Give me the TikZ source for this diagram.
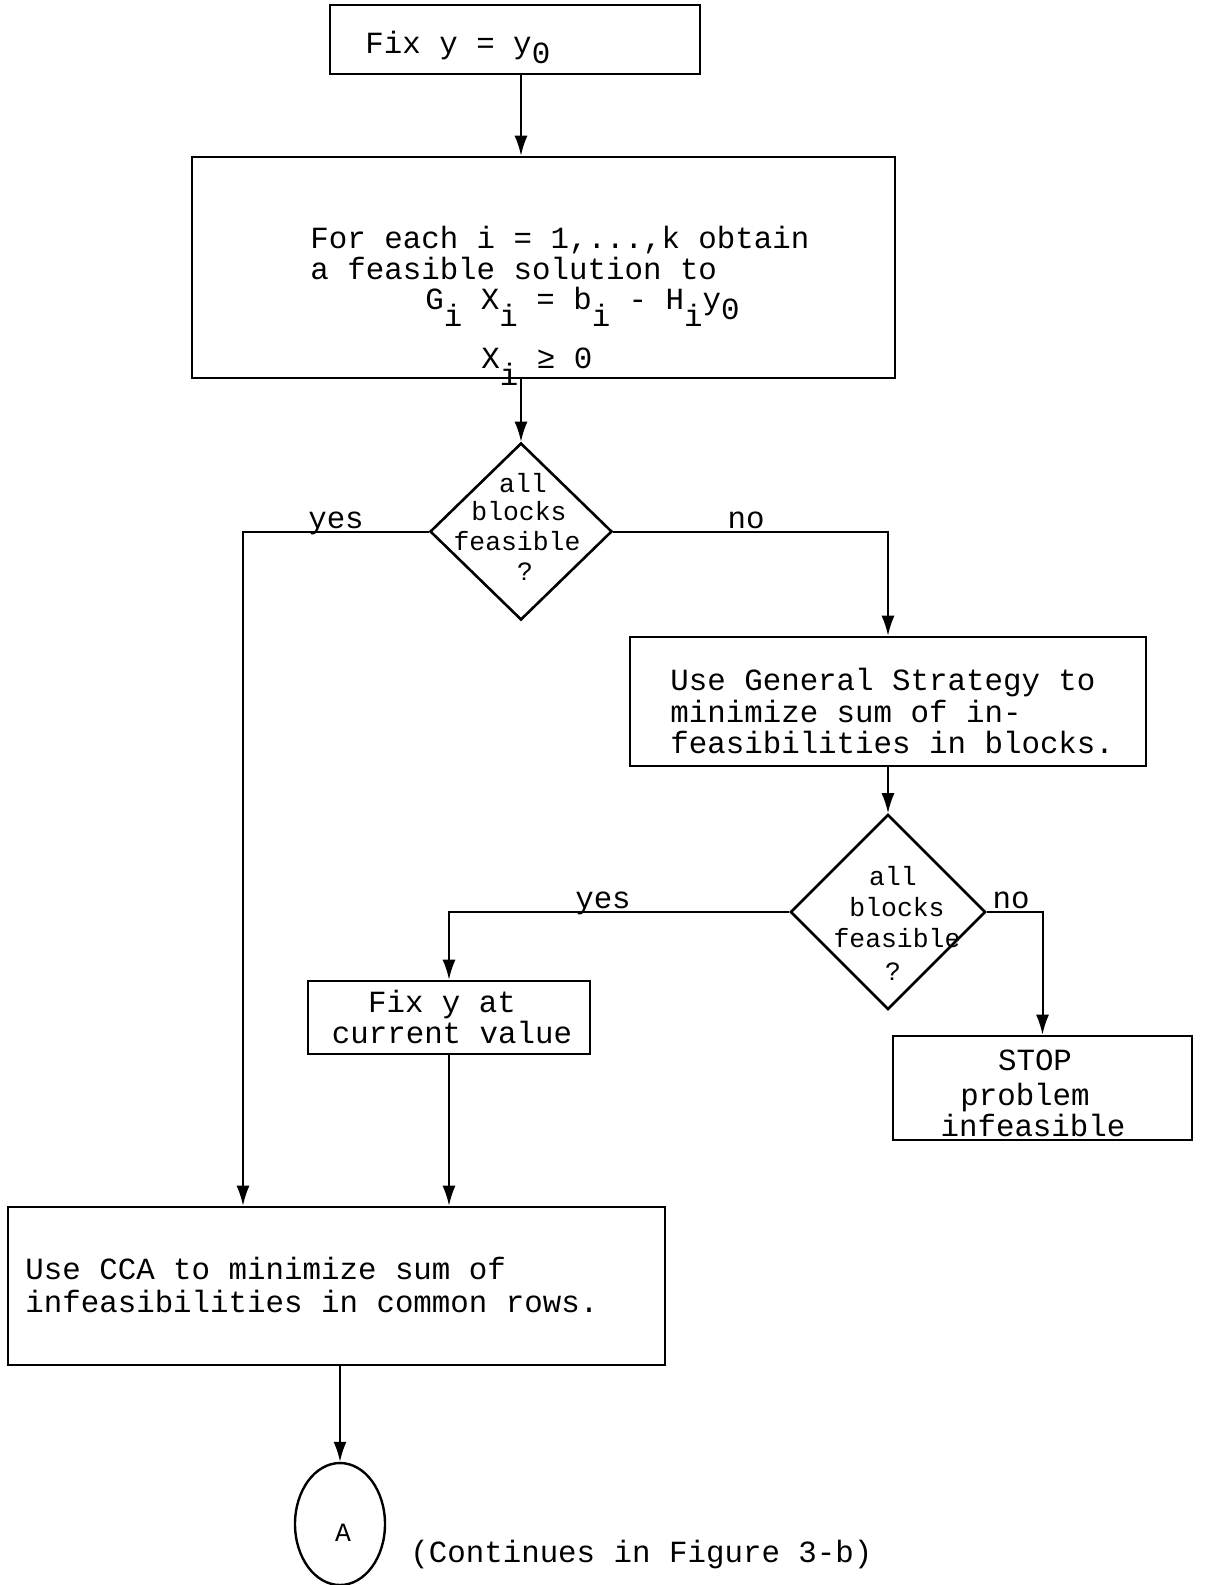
\documentclass[tikz,border=0pt]{standalone}
\usepackage{fontspec}
\setmainfont{Liberation Mono}
\usetikzlibrary{shapes.geometric,arrows.meta}
\newcommand\lowr[2][-8.5pt]{\raisebox{#1}{#2}}
\begin{document}
\begin{tikzpicture}[x=0.5pt,y=-0.5pt,
  box/.style={draw, line width=1.3pt, inner sep=0pt},
  dia/.style={draw, shape=diamond, line width=1.3pt, inner sep=0pt},
  txt/.style={inner sep=0pt, font=\fontsize{15.4}{16}\selectfont, anchor=base west},
  ctxt/.style={txt, anchor=base},
  dtxt/.style={inner sep=0pt, font=\fontsize{13.2}{14}\selectfont, anchor=base},
  link/.style={line width=1pt},
  arr/.style={line width=1pt, -{Latex[length=10pt,width=6.5pt]}}]
\useasboundingbox (0,0) rectangle (1206,1585);

% boxes
\node[box, minimum width=185pt, minimum height=34.5pt] (b1) at (515,39.5) {};
\node[txt] (t1) at (365,53) {Fix y = y\lowr[-5pt]{0}};

\node[box, minimum width=351.5pt, minimum height=110.5pt] (b2) at (543.5,267.5) {};
\node[txt] (t2a) at (310,248) {For each i = 1,...,k obtain};
\node[txt] (t2b) at (310,279) {a feasible solution to};
\node[txt] (t2c) at (425,309) {G\lowr{i} X\lowr{i} = b\lowr{i} - H\lowr{i}y\lowr[-5pt]{0}};
\node[txt] (t2d) at (481,368) {X\lowr{i} ≥ 0};

\node[dia, minimum width=91pt, minimum height=88.5pt] (d1) at (521,531.5) {};
\node[dtxt] (d1a) at (523,492) {all};
\node[dtxt] (d1b) at (519,520) {blocks};
\node[dtxt] (d1c) at (517,550) {feasible};
\node[dtxt] (d1d) at (525,580) {?};

\node[box, minimum width=258pt, minimum height=64.5pt] (b3) at (888,701.5) {};
\node[txt] (t3a) at (670,690) {Use General Strategy to};
\node[txt] (t3b) at (670,722) {minimize sum of in-};
\node[txt] (t3c) at (670,753) {feasibilities in blocks.};

\node[dia, minimum width=97.5pt, minimum height=97.5pt] (d2) at (888,912) {};
\node[dtxt] (d2a) at (893,885) {all};
\node[dtxt] (d2b) at (897,916) {blocks};
\node[dtxt] (d2c) at (897,947) {feasible};
\node[dtxt] (d2d) at (893,980) {?};

\node[box, minimum width=141pt, minimum height=36.5pt] (b4) at (449,1017.5) {};
\node[ctxt] (t4a) at (442,1012) {Fix y at};
\node[ctxt] (t4b) at (452,1043) {current value};

\node[box, minimum width=149.5pt, minimum height=52pt] (stop) at (1042.5,1088) {};
\node[ctxt] (tsa) at (1035,1070) {STOP};
\node[ctxt] (tsb) at (1025,1105) {problem};
\node[ctxt] (tsc) at (1033,1136) {infeasible};

\node[box, minimum width=328.5pt, minimum height=79pt] (cca) at (336.5,1286) {};
\node[txt] (tca) at (25,1279) {Use CCA to minimize sum of};
\node[txt] (tcb) at (25,1312) {infeasibilities in common rows.};

\node[draw, shape=ellipse, line width=1.2pt, inner sep=0pt, minimum width=45pt, minimum height=61pt] (A) at (340,1524) {};
\node[dtxt] (tA) at (343,1541) {A};
\node[txt] (cont) at (410,1562) {(Continues in Figure 3-b)};

% labels
\node[ctxt] (yes1) at (336,528) {yes};
\node[ctxt] (no1) at (746,528) {no};
\node[ctxt] (yes2) at (603,908) {yes};
\node[ctxt] (no2) at (1011,908) {no};

% connectors
\draw[arr] (b1.south -| d1.north) -- (b2.north -| d1.north);
\draw[arr] (b2.south -| d1.north) -- (d1.north);
\draw[arr] (d1.west) -| ([xshift=-46.75pt]cca.north);
\draw[arr] (d1.east) -| (b3.north);
\draw[arr] (b3.south) -- (d2.north);
\draw[arr] (d2.west) -| (b4.north);
\draw[arr] (d2.east) -| (stop.north);
\draw[arr] (b4.south) -- (b4.south |- cca.north);
\draw[arr] (cca.south -| A.north) -- (A.north);
\end{tikzpicture}
\end{document}
